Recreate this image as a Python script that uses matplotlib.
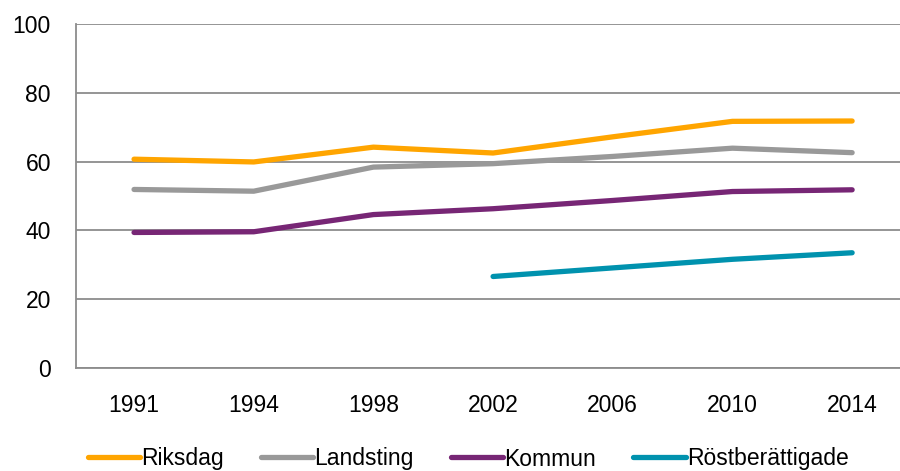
import matplotlib
matplotlib.use("Agg")
import matplotlib.pyplot as plt
import numpy as np

plt.rcParams['font.family'] = ['Liberation Sans', 'DejaVu Sans']

years = ["1991", "1994", "1998", "2002", "2006", "2010", "2014"]
riksdag = [60.7, 59.9, 64.2, 62.5, 67.2, 71.7, 71.8]
landsting = [51.9, 51.4, 58.4, 59.4, 61.5, 63.9, 62.6]
kommun = [39.4, 39.6, 44.6, 46.3, 48.7, 51.3, 51.8]
rostberattigade = [None, None, None, 26.6, 29.1, 31.6, 33.5]

series = [
    ("Riksdag", riksdag, "#FFA500"),
    ("Landsting", landsting, "#999999"),
    ("Kommun", kommun, "#772675"),
    ("Röstberättigade", rostberattigade, "#0092AE"),
]

FS = 16.5

fig = plt.figure(figsize=(9, 4.71), dpi=100)
ax = fig.add_axes([76/900, 1 - 368/471, 1 - 76/900, (368 - 24)/471])

x = np.arange(len(years))
handles = []
for name, vals, col in series:
    v = np.array([np.nan if a is None else a for a in vals], dtype=float)
    h, = ax.plot(x, v, color=col, lw=3.8, solid_capstyle='round', solid_joinstyle='round', label=name)
    handles.append(h)

ax.set_ylim(0, 100)
ax.set_xlim(-0.485, 6.40)
ax.set_yticks([0, 20, 40, 60, 80, 100])
ax.set_xticks(x)
ax.set_xticklabels(years)
ax.yaxis.grid(True, color='#8C8C8C', lw=1.3)
ax.set_axisbelow(True)
for s in ['top', 'right']:
    ax.spines[s].set_visible(False)
for s in ['left', 'bottom']:
    ax.spines[s].set_color('#8C8C8C')
    ax.spines[s].set_linewidth(1.3)
ax.tick_params(axis='both', length=0, labelsize=FS, colors='#000000')
ax.tick_params(axis='x', pad=19)
ax.tick_params(axis='y', pad=18)

leg = fig.legend(handles=handles, loc='center', bbox_to_anchor=(468/900, 1 - 459/471),
                 ncol=4, frameon=False, fontsize=FS, handlelength=2.3,
                 handletextpad=0.05, columnspacing=1.6, borderaxespad=0)
for lh in leg.get_lines():
    lh.set_linewidth(3.8)

fig.savefig("out.png", dpi=100)
